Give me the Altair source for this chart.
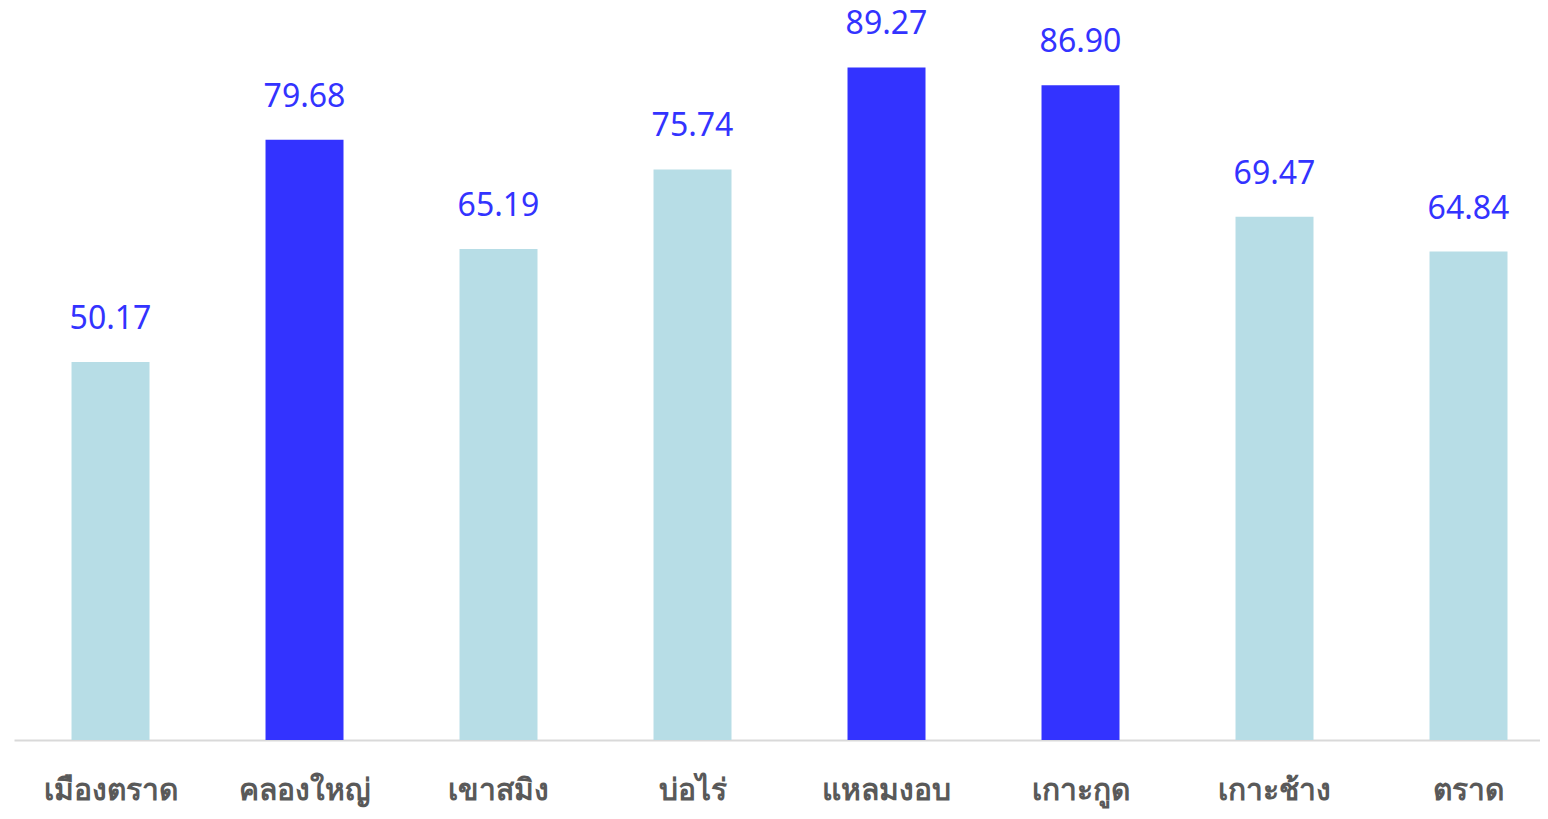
import altair as alt
import pandas as pd

districts = ["เมืองตราด", "คลองใหญ่", "เขาสมิง", "บ่อไร่", "แหลมงอบ", "เกาะกูด", "เกาะช้าง", "ตราด"]
values = [50.17, 79.68, 65.19, 75.74, 89.27, 86.90, 69.47, 64.84]
highlight = ["no", "yes", "no", "no", "yes", "yes", "no", "no"]

df = pd.DataFrame({"district": districts, "value": values, "hl": highlight})
df["label"] = df["value"].map(lambda v: f"{v:.2f}")

x = alt.X("district:N", sort=districts, title=None,
          scale=alt.Scale(paddingInner=0.598, paddingOuter=0.232, align=0.639),
          axis=alt.Axis(labelAngle=0, labelFont="Noto Sans", labelFontSize=30,
                        labelFontWeight="bold", labelColor="#595959", labelPadding=35,
                        ticks=False, domainColor="#D9D9D9", domainWidth=2))
y = alt.Y("value:Q", title=None, scale=alt.Scale(domain=[0, 90], nice=False),
          axis=None)

bars = alt.Chart(df).mark_bar().encode(
    x=x, y=y,
    color=alt.Color("hl:N", scale=alt.Scale(domain=["no", "yes"], range=["#B7DDE6", "#3333FF"]), legend=None),
)
text = alt.Chart(df).mark_text(font="Noto Sans", fontSize=32, color="#3333FF",
                               baseline="alphabetic", dy=-33).encode(
    x=alt.X("district:N", sort=districts), y="value:Q", text="label:N")

chart = (bars + text).properties(
    width=1526, height=678,
    padding={"left": 6, "top": 54, "right": 0, "bottom": 71},
    autosize=alt.AutoSizeParams(type="none"),
).configure_view(stroke=None)

chart.save("out.html", embed_options={"renderer": "svg", "actions": False})
